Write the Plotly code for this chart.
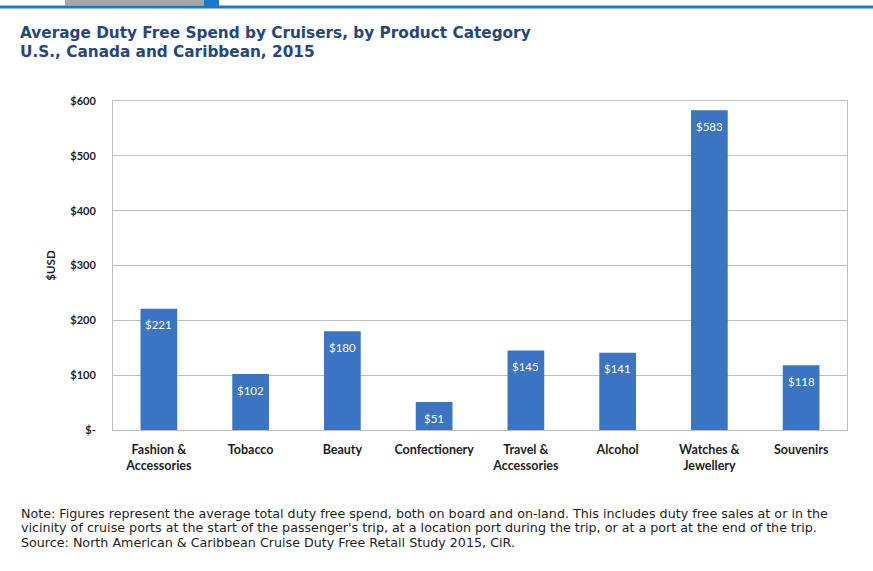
import plotly.graph_objects as go

categories = ["Fashion &<br>Accessories", "Tobacco", "Beauty", "Confectionery",
              "Travel &<br>Accessories", "Alcohol", "Watches &<br>Jewellery", "Souvenirs"]
values = [221, 102, 180, 51, 145, 141, 583, 118]
tick_vals = [0, 100, 200, 300, 400, 500, 600]
tick_text = ["$-", "$100", "$200", "$300", "$400", "$500", "$600"]

W, H = 873, 571
L, R, T, B = 113, 26, 101, 141

fig = go.Figure()
fig.add_trace(go.Bar(
    x=categories, y=values,
    marker=dict(color="#3a74c2", line=dict(width=0)),
    width=0.4,
))

# value labels inside the bars, near the top
for c, v in zip(categories, values):
    fig.add_annotation(x=c, y=v, xref="x", yref="y", yshift=-16,
                       text="$" + str(v), showarrow=False,
                       xanchor="center", yanchor="middle",
                       font=dict(color="white", size=11.5, family="Lato"))

fig.update_layout(
    width=W, height=H,
    margin=dict(l=L, r=R, t=T, b=B),
    paper_bgcolor="white", plot_bgcolor="white",
    showlegend=False,
    xaxis=dict(
        showgrid=False, showline=True, mirror=True, linecolor="#bdbdbd", linewidth=1,
        tickfont=dict(family="Lato", size=12.5, color="#1e1e1e", weight="bold"),
        ticks="", fixedrange=True, ticklabelstandoff=8,
    ),
    yaxis=dict(
        range=[0, 600], tickvals=tick_vals, ticktext=tick_text,
        showgrid=True, gridcolor="#bdbdbd", gridwidth=1,
        showline=True, mirror=True, linecolor="#bdbdbd", linewidth=1,
        tickfont=dict(family="Lato", size=11, color="#1e1e1e", weight="bold"),
        ticks="", ticklabelstandoff=14, zeroline=False, fixedrange=True,
        title=dict(text="$USD", font=dict(family="Lato", size=11.5, color="#1e1e1e", weight="bold"),
                   standoff=12),
    ),
)

def px_x(x):
    return (x - L) / (W - L - R)

def px_y(y):
    return (H - B - y) / (H - T - B)

# top decorative bars
fig.add_shape(type="rect", xref="paper", yref="paper",
              x0=px_x(65), x1=px_x(204), y0=px_y(5.5), y1=px_y(-2),
              fillcolor="#a6a6a6", line=dict(width=0), layer="above")
fig.add_shape(type="rect", xref="paper", yref="paper",
              x0=px_x(204), x1=px_x(219), y0=px_y(6), y1=px_y(-2),
              fillcolor="#1a7ac8", line=dict(width=0), layer="above")
fig.add_shape(type="rect", xref="paper", yref="paper",
              x0=px_x(-2), x1=px_x(W + 2), y0=px_y(8.5), y1=px_y(5.5),
              fillcolor="#1a7ac8", line=dict(width=0), layer="above")

title_color = "#28467a"
fig.add_annotation(xref="paper", yref="paper", x=px_x(18), y=px_y(33),
                   xanchor="left", yanchor="middle", showarrow=False,
                   text="<b>Average Duty Free Spend by Cruisers, by Product Category</b>",
                   font=dict(family="DejaVu Sans", size=15.3, color=title_color))
fig.add_annotation(xref="paper", yref="paper", x=px_x(18), y=px_y(52),
                   xanchor="left", yanchor="middle", showarrow=False,
                   text="<b>U.S., Canada and Caribbean, 2015</b>",
                   font=dict(family="DejaVu Sans", size=15.3, color=title_color))

notes = [
    "Note: Figures represent the average total duty free spend, both on board and on-land. This includes duty free sales at or in the",
    "vicinity of cruise ports at the start of the passenger's trip, at a location port during the trip, or at a port at the end of the trip.",
    "Source: North American & Caribbean Cruise Duty Free Retail Study 2015, CiR.",
]
for i, line in enumerate(notes):
    fig.add_annotation(xref="paper", yref="paper", x=px_x(19), y=px_y(513 + i * 14.8),
                       xanchor="left", yanchor="middle", showarrow=False,
                       text=line,
                       font=dict(family="DejaVu Sans", size=12.7, color="#1e1e1e"))

fig.write_html("out.html", config={"displayModeBar": False},
               post_script="document.body.style.margin='0';")
